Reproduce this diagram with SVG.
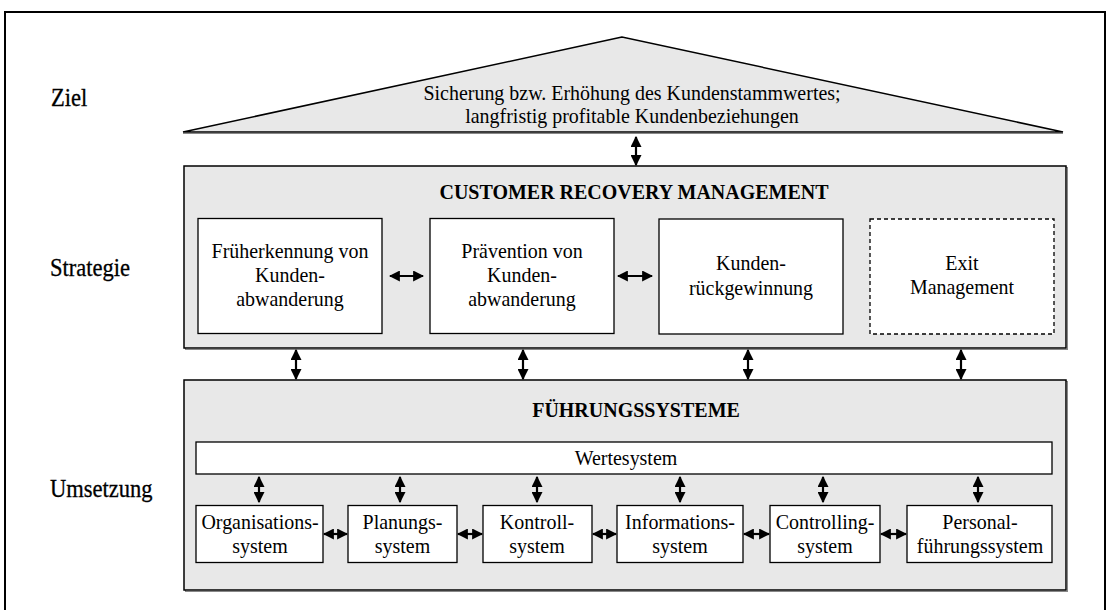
<svg xmlns="http://www.w3.org/2000/svg" width="1112" height="610" viewBox="0 0 1112 610" font-family="'Liberation Serif', 'DejaVu Serif', 'Times New Roman', serif">
<defs>
<style>
text{font-family:"Liberation Serif","DejaVu Serif","Times New Roman",serif;fill:#000}
.t{font-size:21.7px;text-anchor:middle}
.b{font-size:21.5px;font-weight:bold;text-anchor:middle}
.lab{font-size:24.5px;stroke:#000;stroke-width:0.3}
.panel{fill:#e8e8e8;stroke:#000;stroke-width:1.5}
.box{fill:#fff;stroke:#000;stroke-width:1.3}
.sh{fill:none;stroke:#888;stroke-width:1}
.dash{fill:#fff;stroke:#000;stroke-width:1.3;stroke-dasharray:4 3}
.c line{stroke:#000;stroke-width:2.2;marker-start:url(#ah);marker-end:url(#ah)}
</style>
<marker id="ah" viewBox="0 0 10 10" refX="9" refY="5" markerUnits="userSpaceOnUse" markerWidth="11" markerHeight="11" orient="auto-start-reverse">
<path d="M0,0 L10,5 L0,10 z" fill="#000"/>
</marker>
</defs>
<rect x="5" y="12" width="1100" height="640" fill="#fff" stroke="#000" stroke-width="2"/>

<g id="labels">
<text class="lab" transform="matrix(0.92 0 0 1 51 0)" x="0" y="106">Ziel</text>
<text class="lab" transform="matrix(0.92 0 0 1 50 0)" x="0" y="276">Strategie</text>
<text class="lab" transform="matrix(0.92 0 0 1 50 0)" x="0" y="497">Umsetzung</text>
</g>

<g id="ziel">
<polygon points="622,37 183,132 1063,132" fill="#e8e8e8" stroke="#000" stroke-width="1.5"/>
<line x1="183" y1="133.5" x2="1063" y2="133.5" stroke="#888" stroke-width="1"/>
<text class="t" transform="matrix(0.92 0 0 1 632 0)" x="0" y="100">Sicherung bzw. Erhöhung des Kundenstammwertes;</text>
<text class="t" transform="matrix(0.92 0 0 1 632 0)" x="0" y="123">langfristig profitable Kundenbeziehungen</text>
</g>

<g id="strategie">
<rect class="sh" x="185.5" y="167.5" width="882" height="182"/>
<rect class="panel" x="184" y="166" width="882" height="182"/>
<text class="b" transform="matrix(0.93 0 0 1 634 0)" x="0" y="199">CUSTOMER RECOVERY MANAGEMENT</text>
</g>

<g id="frueherkennung">
<rect class="box" x="198" y="218.5" width="184" height="115"/>
<text class="t" transform="matrix(0.92 0 0 1 290 0)" x="0" y="258">Früherkennung von</text>
<text class="t" transform="matrix(0.92 0 0 1 290 0)" x="0" y="282">Kunden-</text>
<text class="t" transform="matrix(0.92 0 0 1 290 0)" x="0" y="306">abwanderung</text>
</g>
<g id="praevention">
<rect class="box" x="430" y="218.5" width="184" height="115"/>
<text class="t" transform="matrix(0.92 0 0 1 522 0)" x="0" y="258">Prävention von</text>
<text class="t" transform="matrix(0.92 0 0 1 522 0)" x="0" y="282">Kunden-</text>
<text class="t" transform="matrix(0.92 0 0 1 522 0)" x="0" y="306">abwanderung</text>
</g>
<g id="rueckgewinnung">
<rect class="box" x="659" y="219" width="184" height="115"/>
<text class="t" transform="matrix(0.92 0 0 1 751 0)" x="0" y="270">Kunden-</text>
<text class="t" transform="matrix(0.92 0 0 1 751 0)" x="0" y="295">rückgewinnung</text>
</g>
<g id="exit">
<rect class="dash" x="870" y="219" width="184" height="115"/>
<text class="t" transform="matrix(0.92 0 0 1 962 0)" x="0" y="270">Exit</text>
<text class="t" transform="matrix(0.92 0 0 1 962 0)" x="0" y="294">Management</text>
</g>

<g id="fuehrung">
<rect class="sh" x="185.5" y="381.5" width="882" height="210"/>
<rect class="panel" x="184" y="380" width="882" height="210"/>
<text class="b" transform="matrix(0.93 0 0 1 636 0)" x="0" y="417">FÜHRUNGSSYSTEME</text>
</g>
<g id="wertesystem">
<rect class="box" x="196" y="442" width="856" height="32"/>
<text class="t" transform="matrix(0.92 0 0 1 626 0)" x="0" y="465">Wertesystem</text>
</g>
<g id="organisation">
<rect class="box" x="196" y="505.5" width="127" height="57"/>
<text class="t" transform="matrix(0.92 0 0 1 260 0)" x="0" y="529">Organisations-</text>
<text class="t" transform="matrix(0.92 0 0 1 260 0)" x="0" y="553">system</text>
</g>
<g id="planung">
<rect class="box" x="348" y="505.5" width="109" height="57"/>
<text class="t" transform="matrix(0.92 0 0 1 402.5 0)" x="0" y="529">Planungs-</text>
<text class="t" transform="matrix(0.92 0 0 1 402.5 0)" x="0" y="553">system</text>
</g>
<g id="kontroll">
<rect class="box" x="483" y="505.5" width="109" height="57"/>
<text class="t" transform="matrix(0.92 0 0 1 537 0)" x="0" y="529">Kontroll-</text>
<text class="t" transform="matrix(0.92 0 0 1 537 0)" x="0" y="553">system</text>
</g>
<g id="information">
<rect class="box" x="617" y="505.5" width="126" height="57"/>
<text class="t" transform="matrix(0.92 0 0 1 680 0)" x="0" y="529">Informations-</text>
<text class="t" transform="matrix(0.92 0 0 1 680 0)" x="0" y="553">system</text>
</g>
<g id="controlling">
<rect class="box" x="770" y="505.5" width="110" height="57"/>
<text class="t" transform="matrix(0.92 0 0 1 825 0)" x="0" y="529">Controlling-</text>
<text class="t" transform="matrix(0.92 0 0 1 825 0)" x="0" y="553">system</text>
</g>
<g id="personal">
<rect class="box" x="907" y="505.5" width="145" height="57"/>
<text class="t" transform="matrix(0.92 0 0 1 980 0)" x="0" y="529">Personal-</text>
<text class="t" transform="matrix(0.92 0 0 1 980 0)" x="0" y="553">führungssystem</text>
</g>

<g id="connectors" class="c">
<line x1="636" y1="137" x2="636" y2="165"/>
<line x1="390" y1="276" x2="423" y2="276"/>
<line x1="618" y1="276" x2="652" y2="276"/>
<line x1="296" y1="350" x2="296" y2="379"/>
<line x1="523" y1="350" x2="523" y2="379"/>
<line x1="748" y1="350" x2="748" y2="379"/>
<line x1="961" y1="350" x2="961" y2="379"/>
<line x1="259" y1="477" x2="259" y2="502"/>
<line x1="400" y1="477" x2="400" y2="502"/>
<line x1="537" y1="477" x2="537" y2="502"/>
<line x1="680" y1="477" x2="680" y2="502"/>
<line x1="823" y1="477" x2="823" y2="502"/>
<line x1="978" y1="477" x2="978" y2="502"/>
<line x1="324" y1="534" x2="347" y2="534"/>
<line x1="458" y1="534" x2="482" y2="534"/>
<line x1="593" y1="534" x2="616" y2="534"/>
<line x1="744" y1="534" x2="769" y2="534"/>
<line x1="881" y1="534" x2="906" y2="534"/>
</g>
</svg>
